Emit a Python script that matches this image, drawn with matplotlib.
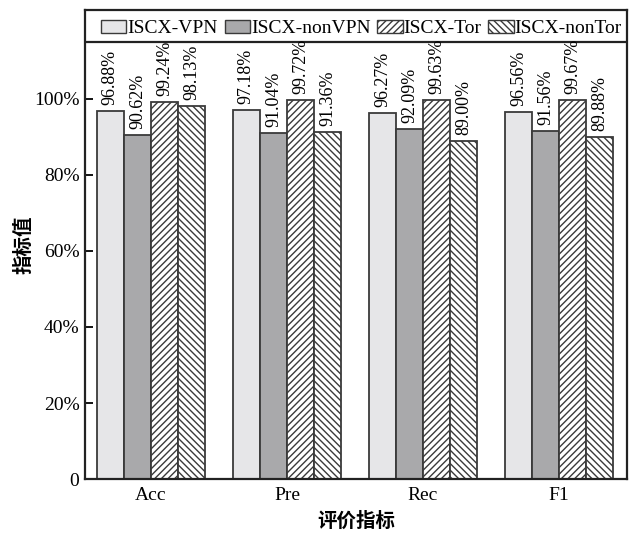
import matplotlib
matplotlib.use("Agg")
import matplotlib.pyplot as plt
import numpy as np
from matplotlib.patches import Patch

plt.rcParams['font.family'] = ['Liberation Serif', 'Noto Sans CJK SC']
plt.rcParams['hatch.linewidth'] = 1.0

metrics = ["Acc", "Pre", "Rec", "F1"]
series = ["ISCX-VPN", "ISCX-nonVPN", "ISCX-Tor", "ISCX-nonTor"]
vpn = [96.88, 97.18, 96.27, 96.56]
nonvpn = [90.62, 91.04, 92.09, 91.56]
tor = [99.24, 99.72, 99.63, 99.67]
nontor = [98.13, 91.36, 89.00, 89.88]

colors = ["#e6e6e8", "#a9a9ab", "white", "white"]
hatches = [None, None, "/////", "\\\\\\\\\\"]
edge = "#3a3a3a"

fig = plt.figure(figsize=(6.38, 5.36), dpi=100)
ax = fig.add_axes([0.1332, 0.1063, 0.8496, 0.875])

x = np.arange(len(metrics))
w = 0.199
for i, vals in enumerate([vpn, nonvpn, tor, nontor]):
    pos = x + (i - 1.5) * w
    ax.bar(pos, vals, w, color=colors[i], hatch=hatches[i], edgecolor=edge, linewidth=1.3)
    for p, v in zip(pos, vals):
        ax.text(p, v + 1.6, f"{v:.2f}%", rotation=90, ha="center", va="bottom", fontsize=13)

ax.set_xlim(-0.485, 3.5)
ax.set_ylim(0, 123.4)
ax.set_yticks([0, 20, 40, 60, 80, 100])
ax.set_yticklabels(["0", "20%", "40%", "60%", "80%", "100%"], fontsize=14)
ax.set_xticks(x)
ax.set_xticklabels(metrics, fontsize=14)
ax.tick_params(axis="y", direction="in", length=6, width=1.3, pad=4)
ax.tick_params(axis="x", length=0, pad=6)
for s in ax.spines.values():
    s.set_linewidth(1.6)
    s.set_color("#222222")
ax.axhline(115, color="#222222", linewidth=1.6)

ax.set_ylabel("指标值", fontsize=14, fontweight="bold", family=["Noto Sans CJK SC"], labelpad=0)
ax.set_xlabel("评价指标", fontsize=14, fontweight="bold", family=["Noto Sans CJK SC"], labelpad=5)

handles = [Patch(facecolor=colors[i], hatch=hatches[i], edgecolor=edge, linewidth=1.0) for i in range(4)]
ax.legend(handles, series, loc="upper left", bbox_to_anchor=(0.012, 1.0), ncol=4, frameon=False,
          fontsize=14, handlelength=1.3, handleheight=0.7, handletextpad=0.05, columnspacing=0.35,
          borderaxespad=0.2, borderpad=0.3)

fig.savefig("out.png", dpi=100)
